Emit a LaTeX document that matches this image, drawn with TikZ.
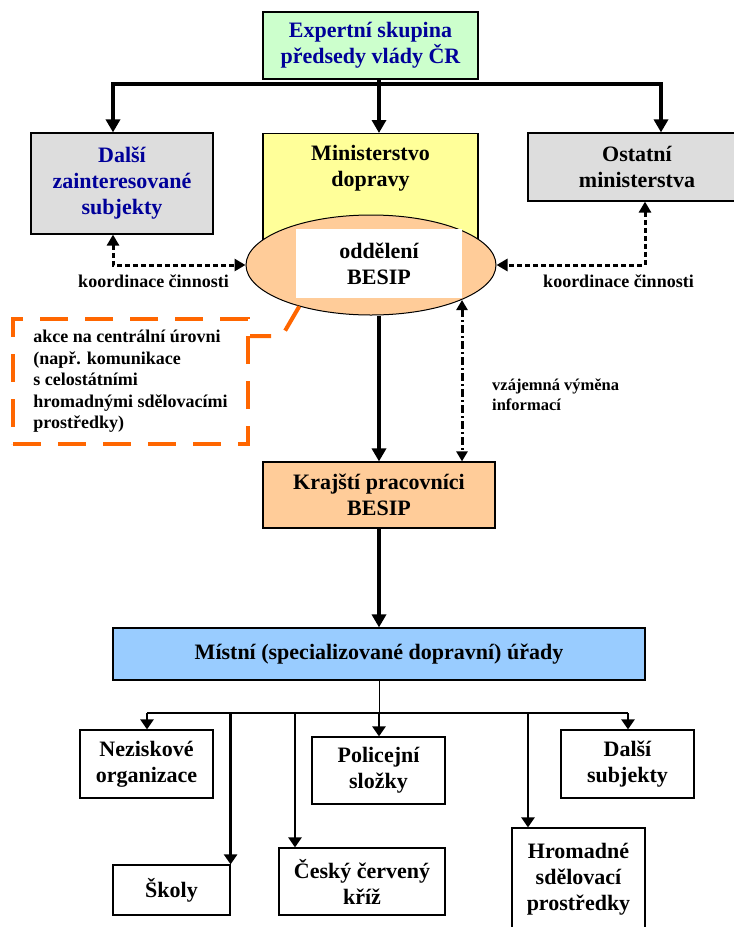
\documentclass[tikz,border=0pt]{standalone}
\usepackage{fontspec}
\setmainfont{Liberation Serif}
\usetikzlibrary{shapes.geometric,arrows.meta}
\definecolor{svzelena}{HTML}{CCFFCC}
\definecolor{seda}{HTML}{DDDDDD}
\definecolor{zluta}{HTML}{FFFF99}
\definecolor{oranzsv}{HTML}{FFCC99}
\definecolor{modra}{HTML}{99CCFF}
\definecolor{oranz}{HTML}{FF6600}
\definecolor{tmmodra}{HTML}{000099}

\begin{document}
\begin{tikzpicture}[x=1pt,y=-1pt,
  box/.style={draw,line width=1.2pt,inner sep=0pt,align=center,font=\fontsize{22}{26}\selectfont\bfseries},
  popis/.style={align=left,inner sep=0pt,font=\fontsize{18}{21.5}\selectfont\bfseries},
  sipka/.style={line width=3.5pt,-{Triangle[length=13pt,width=14pt]}},
  tenka/.style={line width=2.5pt,-{Triangle[length=10pt,width=13pt]}},
  koord/.style={line width=3pt,dash pattern=on 5pt off 3pt,{Triangle[length=11pt,width=12pt]}-{Triangle[length=11pt,width=12pt]}},
  vymena/.style={line width=3pt,dash pattern=on 8pt off 3pt on 2pt off 3pt,{Triangle[length=10pt,width=11pt]}-{Triangle[length=10pt,width=11pt]}},
  carkov/.style={draw=oranz,line width=4pt,dash pattern=on 28pt off 17pt}]
\useasboundingbox (0,0) rectangle (734,927);

% horni patro
\node[box,fill=svzelena,text=tmmodra,minimum width=215pt,minimum height=67pt] (exp) at (370.5,45.5) {Expertní skupina\\předsedy vlády ČR};
\node[box,fill=seda,text=tmmodra,minimum width=182pt,minimum height=101pt] (dalsi) at (122,183.5) {Další\\zainteresované\\subjekty};
\node[box,fill=seda,minimum width=218pt,minimum height=68pt] (ost) at (637,167) {Ostatní\\ministerstva};
\node[box,fill=zluta,minimum width=215pt,minimum height=112pt,anchor=north] (md) at (370.5,133) {};
\node[box,draw=none] (mdtext) at (370.5,168.5) {Ministerstvo\\dopravy};
\node[draw,ellipse,line width=1pt,fill=oranzsv,minimum width=250pt,minimum height=100pt,inner sep=0pt] (odd) at (371,265) {};
\node[box,draw=none,fill=white,minimum width=166pt,minimum height=69pt] (besip) at (379,263.5) {oddělení\\BESIP};

\coordinate (barL) at (113,84);
\coordinate (barR) at (661,84);
\coordinate (osa) at (379,84);
\coordinate (kR) at (645,0);
\draw[sipka,{Triangle[length=13pt,width=14pt]}-{Triangle[length=13pt,width=14pt]}] (barL |- dalsi.north) -- (barL) -- (barR) -- (barR |- ost.north);
\draw[sipka] (osa |- exp.south) -- (osa |- md.north);

\draw[koord] (dalsi.south -| barL) |- (odd.west);
\draw[koord] (ost.south -| kR) |- (odd.east);
\node[popis] (kooL) at (153.5,281) {koordinace činnosti};
\node[popis] (kooR) at (618.5,281) {koordinace činnosti};

% akce na centralni urovni
\node[popis,carkov,minimum width=235pt,minimum height=125pt] (akce) at (130.5,381.5) {akce na centrální úrovni\\(např. komunikace\\s celostátními\\hromadnými sdělovacími\\prostředky)};
\coordinate (zlom) at (282,336);
\draw[carkov] (odd.210) -- (zlom) -- (akce.east |- zlom);

% krajsti pracovnici
\node[box,fill=oranzsv,minimum width=232pt,minimum height=66pt] (kraj) at (379,495) {Krajští pracovníci\\BESIP};
\draw[sipka,line width=4pt] (odd.south -| kraj.north) -- (kraj.north);
\coordinate (vy) at (462,300);
\draw[vymena] (vy) -- (vy |- kraj.north);
\node[popis,anchor=west,font=\fontsize{16.5}{20}\selectfont\bfseries] (vytext) at (492,395) {vzájemná výměna\\informací};

% mistni urady
\node[box,fill=modra,minimum width=532pt,minimum height=52pt] (mist) at (379,654) {Místní (specializované dopravní) úřady};
\draw[sipka,line width=4pt] (kraj.south) -- (mist.north);

\coordinate (sb) at (379,713);
\coordinate (busL) at (147,713);
\coordinate (busR) at (628,713);
\coordinate (c3) at (295,713);
\coordinate (c5) at (528,713);
\draw[line width=1pt] (mist.south) -- (sb);
\draw[line width=2pt] (busL) -- (busR);

\node[box,minimum width=133pt,minimum height=68pt] (nez) at (146.5,764) {Neziskové\\organizace};
\node[box,minimum width=133pt,minimum height=67pt] (pol) at (378.5,770.5) {Policejní\\složky};
\node[box,minimum width=133pt,minimum height=68pt] (dal) at (627.5,764) {Další\\subjekty};
\node[box,minimum width=117pt,minimum height=50pt] (skol) at (171.5,890) {Školy};
\node[box,minimum width=166pt,minimum height=67pt] (cck) at (362,881.5) {Český červený\\kříž};
\node[box,minimum width=133pt,minimum height=102pt] (hrom) at (578.5,879) {Hromadné\\sdělovací\\prostředky};

\draw[tenka] (busL) -- (busL |- nez.north);
\draw[tenka] (skol.north east |- sb) -- (skol.north east);
\draw[tenka] (c3) -- (c3 |- cck.north);
\draw[tenka] (sb) -- (sb |- pol.north);
\draw[tenka] (c5) -- (c5 |- hrom.north);
\draw[tenka] (busR) -- (busR |- dal.north);
\end{tikzpicture}
\end{document}
